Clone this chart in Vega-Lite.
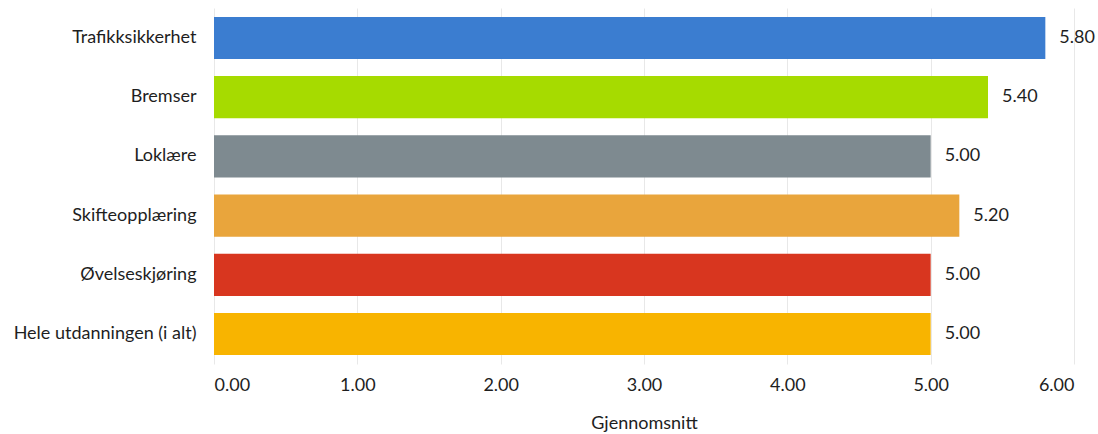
{
  "$schema": "https://vega.github.io/schema/vega-lite/v6.json",
  "autosize": {"type": "none"},
  "padding": {"left": 214, "top": 8, "right": 24, "bottom": 70},
  "width": 860,
  "height": 356,
  "background": "white",
  "config": {
    "view": {"stroke": null},
    "font": "Lato",
    "axis": {"labelFont": "Lato", "titleFont": "Lato", "labelColor": "#1e1e1e", "titleColor": "#1e1e1e"}
  },
  "data": {
    "values": [
      {"kategori": "Trafikksikkerhet", "snitt": 5.8, "farge": "#3b7dd0"},
      {"kategori": "Bremser", "snitt": 5.4, "farge": "#a6db00"},
      {"kategori": "Loklære", "snitt": 5.0, "farge": "#7e8a90"},
      {"kategori": "Skifteopplæring", "snitt": 5.2, "farge": "#e9a53c"},
      {"kategori": "Øvelseskjøring", "snitt": 5.0, "farge": "#d8361f"},
      {"kategori": "Hele utdanningen (i alt)", "snitt": 5.0, "farge": "#f8b400"}
    ]
  },
  "encoding": {
    "y": {
      "field": "kategori",
      "type": "nominal",
      "sort": null,
      "scale": {"paddingInner": 0.29, "paddingOuter": 0.15},
      "axis": {"title": null, "ticks": false, "domain": false, "labelFontSize": 18, "labelPadding": 18, "labelLimit": 300}
    },
    "x": {
      "field": "snitt",
      "type": "quantitative",
      "scale": {"domain": [0, 6], "nice": false},
      "axis": {
        "title": "Gjennomsnitt",
        "titleFontSize": 18,
        "titleFontWeight": "normal",
        "titlePadding": 20,
        "values": [0, 1, 2, 3, 4, 5, 6],
        "format": ".2f",
        "labelFontSize": 18,
        "labelPadding": 12,
        "ticks": false,
        "domain": false,
        "grid": true,
        "gridColor": "#e8e8e8",
        "gridWidth": 1
      }
    }
  },
  "layer": [
    {
      "mark": {"type": "bar"},
      "encoding": {"color": {"field": "farge", "type": "nominal", "scale": null, "legend": null}}
    },
    {
      "mark": {"type": "text", "align": "left", "baseline": "middle", "dx": 14, "fontSize": 18, "color": "#1e1e1e"},
      "encoding": {"text": {"field": "snitt", "type": "quantitative", "format": ".2f"}}
    }
  ]
}
